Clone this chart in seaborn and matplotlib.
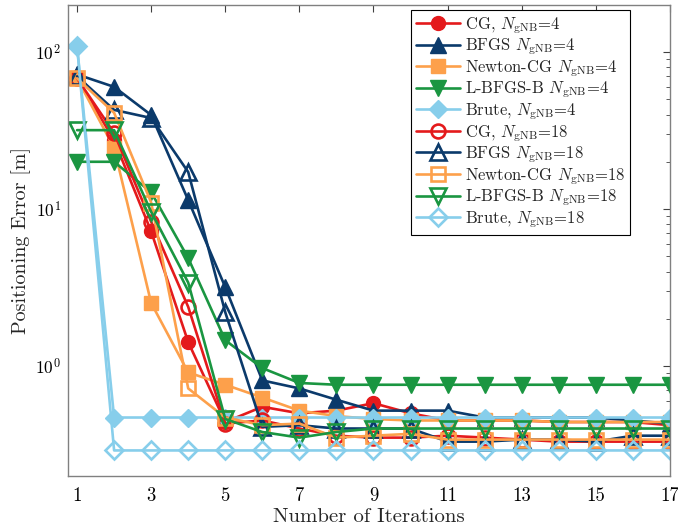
import numpy as np
import pandas as pd
import matplotlib
matplotlib.use("Agg")
import matplotlib.pyplot as plt
import seaborn as sns

iterations = list(range(1, 18))

cg_4 = [68, 27.5, 7.2, 1.42, 0.44, 0.55, 0.50, 0.52, 0.58, 0.50, 0.45, 0.45, 0.45, 0.44, 0.44, 0.44, 0.42]
bfgs_4 = [72, 60, 39.7, 11.4, 3.18, 0.81, 0.72, 0.61, 0.52, 0.52, 0.52, 0.47, 0.47, 0.47, 0.47, 0.45, 0.43]
ncg_4 = [68, 24.5, 2.52, 0.91, 0.76, 0.63, 0.52, 0.48, 0.46, 0.45, 0.45, 0.45, 0.45, 0.44, 0.44, 0.44, 0.44]
lbfgsb_4 = [20, 20, 12.8, 4.87, 1.46, 0.97, 0.78, 0.76, 0.76, 0.76, 0.76, 0.76, 0.76, 0.76, 0.76, 0.76, 0.76]
brute_4 = [109, 0.47, 0.47, 0.47, 0.47, 0.47, 0.47, 0.47, 0.47, 0.47, 0.47, 0.47, 0.47, 0.47, 0.47, 0.47, 0.47]

cg_18 = [68, 30.5, 8.3, 2.38, 0.43, 0.45, 0.40, 0.36, 0.35, 0.35, 0.36, 0.35, 0.34, 0.33, 0.33, 0.33, 0.33]
bfgs_18 = [70, 42.8, 38, 17.2, 2.2, 0.41, 0.42, 0.40, 0.40, 0.40, 0.33, 0.33, 0.34, 0.34, 0.33, 0.36, 0.36]
ncg_18 = [68, 41, 11, 0.72, 0.47, 0.42, 0.43, 0.35, 0.36, 0.37, 0.34, 0.34, 0.34, 0.34, 0.34, 0.34, 0.34]
lbfgsb_18 = [31.8, 31.8, 9.6, 3.4, 0.46, 0.38, 0.35, 0.38, 0.40, 0.40, 0.40, 0.40, 0.40, 0.40, 0.40, 0.40, 0.40]
brute_18 = [109, 0.29, 0.29, 0.29, 0.29, 0.29, 0.29, 0.29, 0.29, 0.29, 0.29, 0.29, 0.29, 0.29, 0.29, 0.29, 0.29]

x_ticks = [1, 3, 5, 7, 9, 11, 13, 15, 17]

RED = "#E41A1C"
NAVY = "#0B3A6B"
ORANGE = "#FDA04B"
GREEN = "#1A9641"
SKY = "#87CEEB"

series = [
    (r"CG, $N_{\mathrm{gNB}}$=4", cg_4, RED, "o", True),
    (r"BFGS $N_{\mathrm{gNB}}$=4", bfgs_4, NAVY, "^", True),
    (r"Newton-CG $N_{\mathrm{gNB}}$=4", ncg_4, ORANGE, "s", True),
    (r"L-BFGS-B $N_{\mathrm{gNB}}$=4", lbfgsb_4, GREEN, "v", True),
    (r"Brute, $N_{\mathrm{gNB}}$=4", brute_4, SKY, "D", True),
    (r"CG, $N_{\mathrm{gNB}}$=18", cg_18, RED, "o", False),
    (r"BFGS $N_{\mathrm{gNB}}$=18", bfgs_18, NAVY, "^", False),
    (r"Newton-CG $N_{\mathrm{gNB}}$=18", ncg_18, ORANGE, "s", False),
    (r"L-BFGS-B $N_{\mathrm{gNB}}$=18", lbfgsb_18, GREEN, "v", False),
    (r"Brute, $N_{\mathrm{gNB}}$=18", brute_18, SKY, "D", False),
]

sns.set_theme(style="white")
plt.rcParams.update({
    "font.family": ["cmr10", "DejaVu Serif"],
    "mathtext.fontset": "cm",
    "axes.formatter.use_mathtext": True,
    "axes.unicode_minus": False,
})

fig = plt.figure(figsize=(6.78, 5.31), dpi=100)
ax = fig.add_axes([0.100, 0.104, 0.888, 0.887])

for label, vals, color, marker, filled in series:
    df = pd.DataFrame({"iter": iterations, "err": vals})
    ms = 10 if marker in ("o", "s") else 11
    if marker == "D":
        ms = 9
    sns.lineplot(
        data=df, x="iter", y="err", ax=ax, color=color, linewidth=1.9,
        marker=marker, markersize=ms,
        markerfacecolor=color if filled else "none",
        markeredgecolor=color, markeredgewidth=1.9 if not filled else 1.0,
        label=label,
    )

ax.set_yscale("log")
ax.set_xlim(0.75, 17)
ax.set_ylim(0.2, 200)
ax.set_xticks(x_ticks)
ax.set_xticklabels([str(t) for t in x_ticks])
ax.set_xlabel("Number of Iterations", fontsize=15, labelpad=2)
ax.set_ylabel("Positioning Error [m]", fontsize=14.5, labelpad=3)

ax.tick_params(axis="both", which="both", direction="in", top=True, right=True,
               colors="#404040", labelcolor="black")
ax.tick_params(axis="x", labelsize=13.5, pad=8)
ax.tick_params(axis="y", labelsize=12.5, pad=5)
ax.tick_params(axis="both", which="major", length=5, width=0.8)
ax.tick_params(axis="y", which="minor", length=3, width=0.6)
for sp in ax.spines.values():
    sp.set_color("#808080")
    sp.set_linewidth(1.0)

leg = ax.legend(loc="upper right", bbox_to_anchor=(0.934, 0.989), borderaxespad=0,
                fontsize=12, frameon=True, fancybox=False, edgecolor="black",
                framealpha=1, handlelength=2.6, labelspacing=0.05, borderpad=0.3,
                handletextpad=0.3)
leg.get_frame().set_linewidth(0.8)

fig.savefig("out.png", dpi=100)
